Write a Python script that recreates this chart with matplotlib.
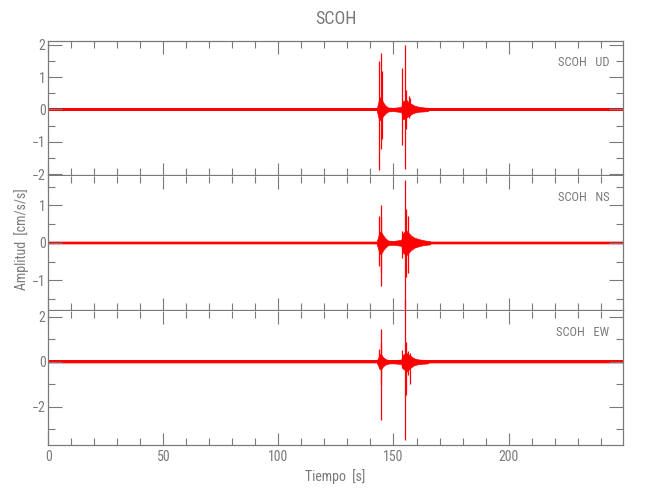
import matplotlib
matplotlib.use("Agg")
import matplotlib.pyplot as plt
from matplotlib import font_manager
from matplotlib.ticker import MultipleLocator

# ---------------- data ----------------
station = "SCOH"
components = ["UD", "NS", "EW"]
t_start, t_end = 0.0, 249.6
xlabel = "Tiempo  [s]"
ylabel = "Amplitud  [cm/s/s]"

# background noise half-width per component
noise_level = [0.035, 0.035, 0.06]

# envelope of the wave trains (time, upper, lower)
ud_env_t = [142.8, 143.3, 143.8, 144.3, 144.8, 145.5, 146.5, 147.7, 150.0, 153.4, 154.0, 154.8, 155.6, 156.5, 157.5, 159.0, 161.0, 165.0]
ud_env_hi = [0.05, 0.18, 0.35, 0.38, 0.32, 0.22, 0.12, 0.06, 0.05, 0.08, 0.25, 0.28, 0.3, 0.22, 0.18, 0.12, 0.08, 0.05]
ud_env_lo = [-0.05, -0.2, -0.35, -0.3, -0.28, -0.2, -0.12, -0.06, -0.05, -0.08, -0.3, -0.28, -0.25, -0.2, -0.15, -0.1, -0.07, -0.05]

ns_env_t = [142.8, 143.3, 143.8, 144.3, 144.8, 145.5, 146.5, 147.7, 150.0, 153.4, 154.0, 154.8, 155.6, 156.5, 157.5, 159.0, 161.0, 163.0, 166.0]
ns_env_hi = [0.05, 0.15, 0.27, 0.3, 0.27, 0.2, 0.12, 0.06, 0.05, 0.08, 0.25, 0.3, 0.33, 0.27, 0.2, 0.14, 0.1, 0.07, 0.04]
ns_env_lo = [-0.05, -0.15, -0.27, -0.3, -0.27, -0.2, -0.12, -0.06, -0.05, -0.08, -0.25, -0.3, -0.33, -0.27, -0.2, -0.13, -0.09, -0.06, -0.04]

ew_env_t = [142.8, 143.3, 143.8, 144.3, 144.8, 145.5, 146.5, 147.7, 150.0, 153.4, 154.0, 154.8, 155.6, 156.5, 157.5, 159.0, 161.0, 165.0]
ew_env_hi = [0.07, 0.15, 0.3, 0.35, 0.3, 0.2, 0.12, 0.08, 0.07, 0.1, 0.3, 0.35, 0.4, 0.32, 0.25, 0.15, 0.1, 0.07]
ew_env_lo = [-0.07, -0.15, -0.3, -0.35, -0.3, -0.2, -0.12, -0.08, -0.07, -0.1, -0.3, -0.35, -0.45, -0.35, -0.25, -0.15, -0.1, -0.07]

# isolated peaks (time, max, min)
ud_pk_t = [143.5, 144.5, 144.8, 153.9, 155.1, 155.5, 156.6, 157.3]
ud_pk_hi = [1.48, 1.73, 1.2, 1.28, 2.0, 0.6, 0.4, 0.35]
ud_pk_lo = [-1.87, -1.23, -0.9, -1.1, -1.85, -0.6, -0.25, -0.2]

ns_pk_t = [143.5, 144.4, 144.7, 153.9, 155.2, 155.6, 156.2]
ns_pk_hi = [0.71, 1.0, 0.7, 0.31, 1.67, 0.9, 0.71]
ns_pk_lo = [-0.62, -1.15, -0.8, -0.4, -1.73, -0.9, -0.8]

ew_pk_t = [143.5, 144.5, 144.7, 153.9, 155.2, 155.6, 156.5, 157.2]
ew_pk_hi = [0.56, 1.45, 0.89, 0.52, 2.74, 0.89, 0.5, 0.39]
ew_pk_lo = [-0.22, -2.6, -1.03, -0.28, -3.48, -1.48, -0.6, -1.0]

ylims = [(-2.02, 2.12), (-1.79, 1.79), (-3.7, 2.27)]
ymajor = [1, 1, 2]
yminor = [0.5, 0.5, 1]

envs = [(ud_env_t, ud_env_hi, ud_env_lo), (ns_env_t, ns_env_hi, ns_env_lo), (ew_env_t, ew_env_hi, ew_env_lo)]
peaks = [(ud_pk_t, ud_pk_hi, ud_pk_lo), (ns_pk_t, ns_pk_hi, ns_pk_lo), (ew_pk_t, ew_pk_hi, ew_pk_lo)]

# ---------------- style ----------------
available = {f.name for f in font_manager.fontManager.ttflist}
family = "DejaVu Sans"
for cand in ["Liberation Sans Narrow", "DejaVu Sans Condensed", "Roboto Condensed", "Open Sans Condensed", "DejaVu Sans"]:
    if cand in available:
        family = cand
        break
plt.rcParams["font.family"] = [family, "DejaVu Sans"]
gray = "#7a7a7a"

fig = plt.figure(figsize=(6.5, 5.0), dpi=100)
left, width = 0.0743, 0.8837
bottoms = [0.650, 0.380, 0.110]
height = 0.2686

axes = []
for i in range(3):
    ax = fig.add_axes([left, bottoms[i], width, height])
    axes.append(ax)
    nl = noise_level[i]
    ax.fill_between([t_start, t_end], [-1.6 * nl, -1.6 * nl], [1.6 * nl, 1.6 * nl], color="#ff7070", lw=0, alpha=0.6)
    ax.fill_between([t_start, t_end], [-nl, -nl], [nl, nl], color="red", lw=0)
    et, eh, el = envs[i]
    ax.fill_between(et, el, eh, color="red", lw=0.5)
    pt, ph, pl = peaks[i]
    ax.vlines(pt, pl, ph, color="red", lw=0.9, clip_on=False)
    ax.set_xlim(t_start, t_end)
    ax.set_ylim(*ylims[i])
    ax.yaxis.set_major_locator(MultipleLocator(ymajor[i]))
    ax.yaxis.set_minor_locator(MultipleLocator(yminor[i]))
    ax.xaxis.set_major_locator(MultipleLocator(50))
    ax.xaxis.set_minor_locator(MultipleLocator(10))
    ax.tick_params(which="both", direction="in", top=True, right=True, color=gray,
                   labelcolor=gray, labelsize=10, width=0.8)
    ax.tick_params(which="major", length=9)
    ax.tick_params(which="minor", length=5)
    ax.tick_params(axis="y", which="major", length=10, pad=2)
    ax.tick_params(axis="y", which="minor", length=5)
    for s in ax.spines.values():
        s.set_color(gray)
        s.set_linewidth(0.9)
    if i > 0:
        ax.spines["top"].set_visible(False)
    if i < 2:
        ax.tick_params(labelbottom=False)
    ax.text(0.977, 0.84, f"{station}   {components[i]}", transform=ax.transAxes,
            ha="right", va="center", color=gray, fontsize=9)

axes[2].set_xlabel(xlabel, color=gray, fontsize=10, labelpad=4)
axes[1].set_ylabel(ylabel, color=gray, fontsize=10)
axes[1].yaxis.set_label_coords(-0.034, 0.53)
fig.text(left + width / 2, 0.963, station, ha="center", va="center", color=gray, fontsize=13)

fig.savefig("out.png", dpi=100, facecolor="white")
